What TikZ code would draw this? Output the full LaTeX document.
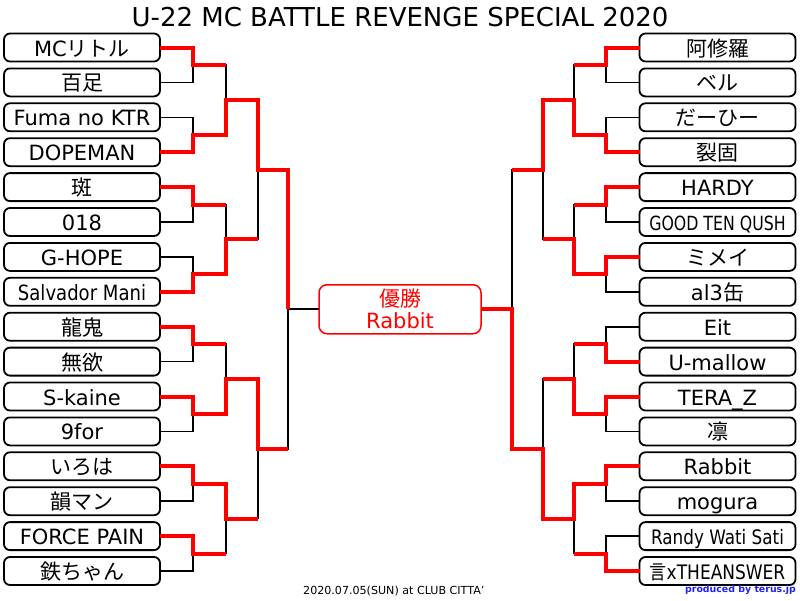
\documentclass[tikz,border=0pt]{standalone}
\usepackage{fontspec}
\usepackage{graphicx}
\setmainfont{DejaVu Sans}
\newfontfamily\jp{Noto Sans CJK JP}
\usetikzlibrary{positioning, calc}
\definecolor{winred}{HTML}{FF0000}
\definecolor{credit}{HTML}{2020FF}
\tikzset{
  player/.style={
    rectangle, rounded corners=6pt,
    draw=black, fill=white, line width=1.8pt,
    minimum width=156pt, minimum height=28pt,
    inner sep=0pt, outer sep=0pt,
    text height=19pt, text depth=2pt,
    font=\fontsize{21}{24}\selectfont
  },
  champbox/.style={
    rectangle, rounded corners=8pt,
    draw=winred, fill=white, line width=1.5pt,
    minimum width=162pt, minimum height=49pt,
    inner sep=0pt, outer sep=0pt, align=center,
    text=winred, font=\fontsize{21}{22}\selectfont
  },
  bracket/.style={line width=1.6pt, draw=black},
  winpath/.style={line width=4pt, draw=winred},
}

\begin{document}
\begin{tikzpicture}[x=1pt, y=-1pt, node distance=6.9pt]
  \useasboundingbox (0,0) rectangle (800,600);

  \node[anchor=base, font=\fontsize{26}{30}\selectfont] (title) at (400,26)
    {U-22 MC BATTLE REVENGE SPECIAL 2020};

  \node[player] (mc) at (82,47.5) {MC{\jp リトル}};
  \node[player, below=of mc] (hyaku) {\jp 百足};
  \node[player, below=of hyaku] (fuma) {Fuma no KTR};
  \node[player, below=of fuma] (dope) {DOPEMAN};
  \node[player, below=of dope] (han) {\jp 斑};
  \node[player, below=of han] (oneeight) {018};
  \node[player, below=of oneeight] (ghope) {G-HOPE};
  \node[player, below=of ghope] (salv) {\scalebox{0.86}[1]{Salvador Mani}};
  \node[player, below=of salv] (ryuki) {\jp 龍鬼};
  \node[player, below=of ryuki] (muyoku) {\jp 無欲};
  \node[player, below=of muyoku] (skaine) {S-kaine};
  \node[player, below=of skaine] (ninefor) {9for};
  \node[player, below=of ninefor] (iroha) {\jp いろは};
  \node[player, below=of iroha] (inman) {\jp 韻マン};
  \node[player, below=of inman] (force) {FORCE PAIN};
  \node[player, below=of force] (tetsu) {\jp 鉄ちゃん};

  \node[player] (ashura) at (717.5,47.5) {\jp 阿修羅};
  \node[player, below=of ashura] (beru) {\jp ベル};
  \node[player, below=of beru] (dahi) {\jp だーひー};
  \node[player, below=of dahi] (rekko) {\jp 裂固};
  \node[player, below=of rekko] (hardy) {HARDY};
  \node[player, below=of hardy] (goodten) {\scalebox{0.75}[0.93]{GOOD TEN QUSH}};
  \node[player, below=of goodten] (mimei) {\jp ミメイ};
  \node[player, below=of mimei] (alsan) {al3{\jp 缶}};
  \node[player, below=of alsan] (eit) {Eit};
  \node[player, below=of eit] (umallow) {U-mallow};
  \node[player, below=of umallow] (teraz) {TERA\_Z};
  \node[player, below=of teraz] (rin) {\jp 凛};
  \node[player, below=of rin] (rabbit) {Rabbit};
  \node[player, below=of rabbit] (mogura) {mogura};
  \node[player, below=of mogura] (randy) {\scalebox{0.8}[0.95]{Randy Wati Sati}};
  \node[player, below=of randy] (gen) {\scalebox{0.81}[0.95]{{\jp 言}xTHEANSWER}};

  \coordinate (L1a) at ($(mc.east)!0.5!(hyaku.east)+(33,0)$);
  \coordinate (L1b) at ($(fuma.east)!0.5!(dope.east)+(33,0)$);
  \coordinate (L1c) at ($(han.east)!0.5!(oneeight.east)+(33,0)$);
  \coordinate (L1d) at ($(ghope.east)!0.5!(salv.east)+(33,0)$);
  \coordinate (L1e) at ($(ryuki.east)!0.5!(muyoku.east)+(33,0)$);
  \coordinate (L1f) at ($(skaine.east)!0.5!(ninefor.east)+(33,0)$);
  \coordinate (L1g) at ($(iroha.east)!0.5!(inman.east)+(33,0)$);
  \coordinate (L1h) at ($(force.east)!0.5!(tetsu.east)+(33,0)$);
  \coordinate (L2a) at ($(L1a)!0.5!(L1b)+(33,0)$);
  \coordinate (L2b) at ($(L1c)!0.5!(L1d)+(33,0)$);
  \coordinate (L2c) at ($(L1e)!0.5!(L1f)+(33,0)$);
  \coordinate (L2d) at ($(L1g)!0.5!(L1h)+(33,0)$);
  \coordinate (L3a) at ($(L2a)!0.5!(L2b)+(32,0)$);
  \coordinate (L3b) at ($(L2c)!0.5!(L2d)+(32,0)$);
  \coordinate (Lf) at ($(L3a)!0.5!(L3b)+(30,0)$);

  \coordinate (R1a) at ($(ashura.west)!0.5!(beru.west)+(-33.5,0)$);
  \coordinate (R1b) at ($(dahi.west)!0.5!(rekko.west)+(-33.5,0)$);
  \coordinate (R1c) at ($(hardy.west)!0.5!(goodten.west)+(-33.5,0)$);
  \coordinate (R1d) at ($(mimei.west)!0.5!(alsan.west)+(-33.5,0)$);
  \coordinate (R1e) at ($(eit.west)!0.5!(umallow.west)+(-33.5,0)$);
  \coordinate (R1f) at ($(teraz.west)!0.5!(rin.west)+(-33.5,0)$);
  \coordinate (R1g) at ($(rabbit.west)!0.5!(mogura.west)+(-33.5,0)$);
  \coordinate (R1h) at ($(randy.west)!0.5!(gen.west)+(-33.5,0)$);
  \coordinate (R2a) at ($(R1a)!0.5!(R1b)+(-32,0)$);
  \coordinate (R2b) at ($(R1c)!0.5!(R1d)+(-32,0)$);
  \coordinate (R2c) at ($(R1e)!0.5!(R1f)+(-32,0)$);
  \coordinate (R2d) at ($(R1g)!0.5!(R1h)+(-32,0)$);
  \coordinate (R3a) at ($(R2a)!0.5!(R2b)+(-31,0)$);
  \coordinate (R3b) at ($(R2c)!0.5!(R2d)+(-31,0)$);
  \coordinate (Rf) at ($(R3a)!0.5!(R3b)+(-31,0)$);

  \node[champbox] (champ) at ($(Lf)!0.5!(Rf)$) {{\jp 優勝}\\Rabbit};

  \foreach \a/\b/\m in {mc/hyaku/L1a, fuma/dope/L1b, han/oneeight/L1c, ghope/salv/L1d,
      ryuki/muyoku/L1e, skaine/ninefor/L1f, iroha/inman/L1g, force/tetsu/L1h} {
    \draw[bracket] (\a.east) -| (\m);
    \draw[bracket] (\b.east) -| (\m);
  }
  \foreach \a/\b/\m in {ashura/beru/R1a, dahi/rekko/R1b, hardy/goodten/R1c, mimei/alsan/R1d,
      eit/umallow/R1e, teraz/rin/R1f, rabbit/mogura/R1g, randy/gen/R1h} {
    \draw[bracket] (\a.west) -| (\m);
    \draw[bracket] (\b.west) -| (\m);
  }
  \foreach \a/\b/\m in {L1a/L1b/L2a, L1c/L1d/L2b, L1e/L1f/L2c, L1g/L1h/L2d,
      L2a/L2b/L3a, L2c/L2d/L3b, L3a/L3b/Lf,
      R1a/R1b/R2a, R1c/R1d/R2b, R1e/R1f/R2c, R1g/R1h/R2d,
      R2a/R2b/R3a, R2c/R2d/R3b, R3a/R3b/Rf} {
    \draw[bracket] (\a) -| (\m);
    \draw[bracket] (\b) -| (\m);
  }
  \draw[bracket] (Lf) -- (champ.west);
  \draw[bracket] (Rf) -- (champ.east);

  \draw[winpath] (mc.east) -| (L1a) -- (L1a -| L2a);
  \draw[winpath] (dope.east) -| (L1b) -| (L2a) -| (L3a) -| (Lf);
  \draw[winpath] (han.east) -| (L1c) -- (L1c -| L2b);
  \draw[winpath] (salv.east) -| (L1d) -| (L2b) -- (L2b -| L3a);
  \draw[winpath] (ryuki.east) -| (L1e) -- (L1e -| L2c);
  \draw[winpath] (skaine.east) -| (L1f) -| (L2c) -| (L3b) -- (L3b -| Lf);
  \draw[winpath] (iroha.east) -| (L1g) -| (L2d) -- (L2d -| L3b);
  \draw[winpath] (force.east) -| (L1h) -- (L1h -| L2d);

  \draw[winpath] (ashura.west) -| (R1a) -- (R1a -| R2a);
  \draw[winpath] (rekko.west) -| (R1b) -| (R2a) -| (R3a) -- (R3a -| Rf);
  \draw[winpath] (hardy.west) -| (R1c) -- (R1c -| R2b);
  \draw[winpath] (mimei.west) -| (R1d) -| (R2b) -- (R2b -| R3a);
  \draw[winpath] (umallow.west) -| (R1e) -- (R1e -| R2c);
  \draw[winpath] (teraz.west) -| (R1f) -| (R2c) -- (R2c -| R3b);
  \draw[winpath] (rabbit.west) -| (R1g) -| (R2d) -| (R3b) -| (Rf) -- (champ.east);
  \draw[winpath] (gen.west) -| (R1h) -- (R1h -| R2d);

  \node[anchor=base west, inner sep=0pt, font=\fontsize{11.1}{13}\selectfont] (date) at (303,594)
    {2020.07.05(SUN) at CLUB CITTA'};
  \node[anchor=base east, inner sep=0pt, text=credit, font=\fontsize{9.4}{11}\selectfont\bfseries] (credit) at (796,592)
    {produced by terus.jp};
\end{tikzpicture}
\end{document}
